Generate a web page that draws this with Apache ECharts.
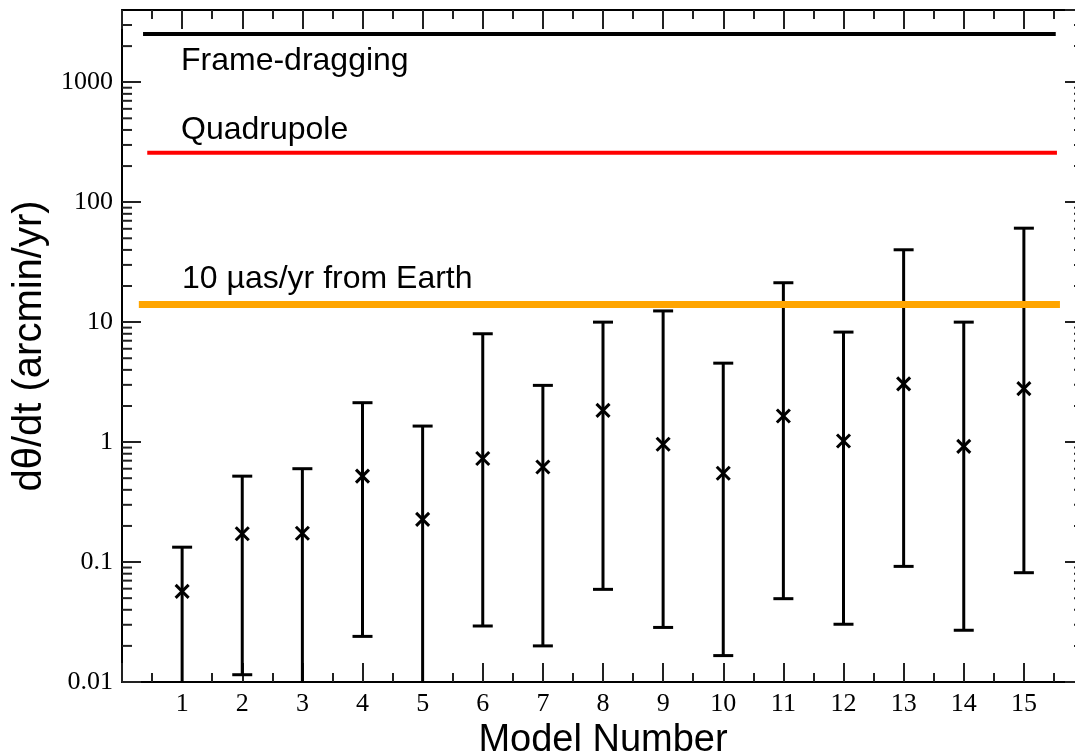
<!DOCTYPE html>
<html>
<head>
<meta charset="utf-8">
<script src="https://cdn.jsdelivr.net/npm/echarts@6/dist/echarts.min.js"></script>
<style>
  html, body { margin: 0; padding: 0; background: #fff; }
  #chart { width: 1075px; height: 751px; }
</style>
</head>
<body>
<div id="chart"></div>
<script>
// model numbers and d(theta)/dt estimates with their error ranges (arcmin/yr)
const models = [1, 2, 3, 4, 5, 6, 7, 8, 9, 10, 11, 12, 13, 14, 15]
const central = [0.057, 0.172, 0.174, 0.52, 0.227, 0.73, 0.62, 1.84, 0.96, 0.55, 1.65, 1.02, 3.06, 0.92, 2.79]
const upper = [0.133, 0.52, 0.60, 2.13, 1.36, 8.0, 2.97, 10.0, 12.4, 4.55, 21.3, 8.26, 40.1, 10.0, 60.7]
const lower = [0.005, 0.0115, 0.005, 0.024, 0.005, 0.0293, 0.020, 0.0592, 0.0285, 0.0166, 0.0495, 0.0303, 0.092, 0.027, 0.0815]

// reference levels: [xStart, xEnd] and value
const frameDragging = { x: [0.35, 15.53], value: 2520 }
const quadrupole = { x: [0.42, 15.55], value: 258 }
const earthLimit = { x: [0.28, 15.6], value: 14 }

const xTickLabels = ['1', '2', '3', '4', '5', '6', '7', '8', '9', '10', '11', '12', '13', '14', '15']
const yMin = 0.01
const yMax = 4000
const xMin = 0
const xMax = 16

// log minor ticks (2..9 in each decade)
const yMinorTicks = []
for (let d = 0.01; d < yMax; d *= 10) {
  for (let k = 2; k <= 9; k++) {
    const v = +(k * d).toPrecision(3)
    if (v < yMax) yMinorTicks.push(v)
  }
}

const serif = 'Liberation Serif'
const sans = 'Liberation Sans'

const errorData = models.map((m, i) => [m, central[i], lower[i], upper[i]])

const chart = echarts.init(document.getElementById('chart'))

const xBase = {
  type: 'value',
  min: xMin,
  max: xMax,
  interval: 1,
  splitLine: { show: false },
  axisLine: { onZero: false, lineStyle: { color: '#000', width: 2 } },
  axisTick: { inside: true, length: 19, lineStyle: { color: '#222', width: 2 } },
  minorTick: { show: true, splitNumber: 2, length: 9, lineStyle: { color: '#222', width: 2 } }
}

const yBase = {
  type: 'log',
  logBase: 10,
  min: yMin,
  max: yMax,
  interval: 1,
  splitLine: { show: false },
  axisLine: { onZero: false, lineStyle: { color: '#000', width: 2 } },
  axisTick: { inside: true, length: 19, lineStyle: { color: '#222', width: 2 } }
}

const option = {
  backgroundColor: '#fff',
  animation: false,
  grid: { left: 122, right: -9, top: 10, bottom: 69, containLabel: false, outerBoundsMode: 'none' },
  xAxis: [
    {
      ...xBase,
      position: 'bottom',
      name: 'Model Number',
      nameLocation: 'middle',
      nameGap: 30,
      nameTextStyle: { fontFamily: sans, fontSize: 38, color: '#000' },
      axisLabel: {
        showMinLabel: false,
        showMaxLabel: false,
        margin: 9,
        fontFamily: serif,
        fontSize: 26,
        color: '#000',
        formatter: v => xTickLabels[Math.round(v) - 1] || ''
      }
    },
    { ...xBase, position: 'top', axisLabel: { show: false } }
  ],
  yAxis: [
    {
      ...yBase,
      position: 'left',
      name: 'dθ/dt (arcmin/yr)',
      nameLocation: 'middle',
      nameRotate: 90,
      nameGap: 70,
      nameTextStyle: { fontFamily: sans, fontSize: 40, color: '#000' },
      axisLabel: {
        showMaxLabel: false,
        margin: 9,
        fontFamily: serif,
        fontSize: 26,
        color: '#000',
        formatter: v => String(+(+v).toPrecision(6))
      }
    },
    { ...yBase, position: 'right', axisLabel: { show: false } }
  ],
  series: [
    {
      type: 'custom',
      name: 'minor ticks',
      silent: true,
      clip: false,
      data: yMinorTicks.map(v => [xMin, v]),
      renderItem: (params, api) => {
        const v = api.value(1)
        const pL = api.coord([xMin, v])
        const pR = api.coord([xMax, v])
        const st = { stroke: '#222', lineWidth: 2 }
        return {
          type: 'group',
          children: [
            { type: 'line', shape: { x1: pL[0], y1: pL[1], x2: pL[0] + 10, y2: pL[1] }, style: st },
            { type: 'line', shape: { x1: pR[0] - 10, y1: pR[1], x2: pR[0], y2: pR[1] }, style: st }
          ]
        }
      }
    },
    {
      type: 'line',
      name: 'Frame-dragging',
      symbol: 'none',
      lineStyle: { color: '#000', width: 4 },
      data: frameDragging.x.map(x => [x, frameDragging.value])
    },
    {
      type: 'line',
      name: 'Quadrupole',
      symbol: 'none',
      lineStyle: { color: '#ff0000', width: 4 },
      data: quadrupole.x.map(x => [x, quadrupole.value])
    },
    {
      type: 'line',
      name: '10 µas/yr from Earth',
      symbol: 'none',
      lineStyle: { color: '#ffa500', width: 7 },
      data: earthLimit.x.map(x => [x, earthLimit.value])
    },
    {
      type: 'custom',
      name: 'models',
      clip: true,
      data: errorData,
      renderItem: (params, api) => {
        const x = api.value(0)
        const p = api.coord([x, api.value(1)])
        const lo = api.coord([x, api.value(2)])
        const hi = api.coord([x, api.value(3)])
        const st = { stroke: '#000', lineWidth: 3 }
        const cap = 10
        const m = 6.5
        return {
          type: 'group',
          children: [
            { type: 'line', shape: { x1: lo[0], y1: lo[1], x2: hi[0], y2: hi[1] }, style: st },
            { type: 'line', shape: { x1: hi[0] - cap, y1: hi[1], x2: hi[0] + cap, y2: hi[1] }, style: st },
            { type: 'line', shape: { x1: lo[0] - cap, y1: lo[1], x2: lo[0] + cap, y2: lo[1] }, style: st },
            { type: 'line', shape: { x1: p[0] - m, y1: p[1] - m, x2: p[0] + m, y2: p[1] + m }, style: st },
            { type: 'line', shape: { x1: p[0] - m, y1: p[1] + m, x2: p[0] + m, y2: p[1] - m }, style: st }
          ]
        }
      }
    }
  ],
  graphic: [
    { type: 'text', left: 181, top: 45, style: { text: 'Frame-dragging', font: '32px "Liberation Sans"', fill: '#000' } },
    { type: 'text', left: 181, top: 114, style: { text: 'Quadrupole', font: '32px "Liberation Sans"', fill: '#000' } },
    { type: 'text', left: 182, top: 263, style: { text: '10 µas/yr from Earth', font: '32px "Liberation Sans"', fill: '#000' } }
  ]
}

chart.setOption(option)
</script>
</body>
</html>
